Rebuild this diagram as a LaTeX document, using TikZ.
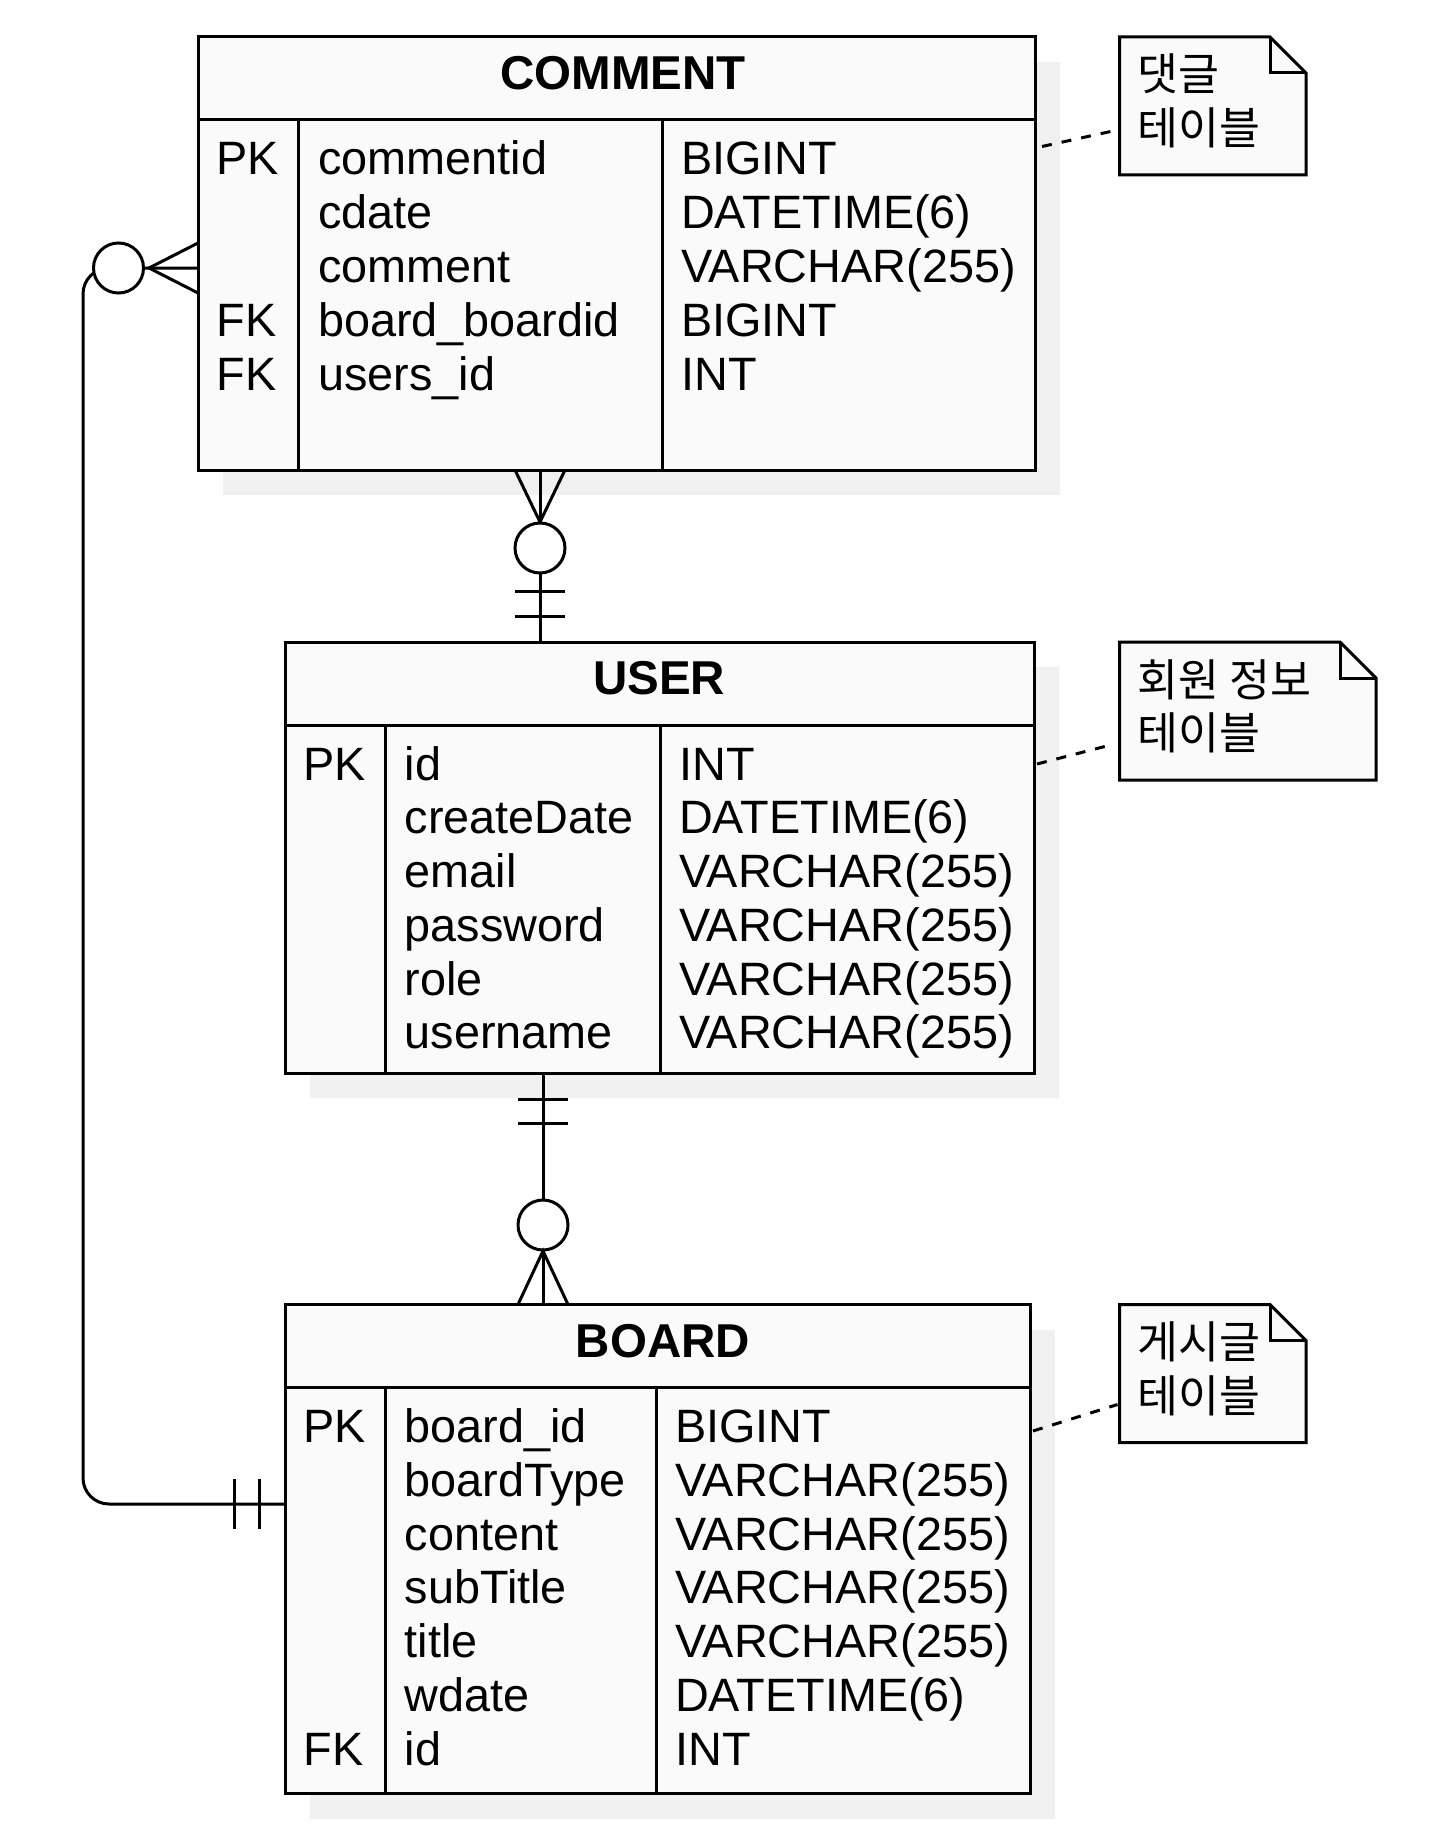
\documentclass[tikz,border=0pt]{standalone}
\usepackage{fontspec}
\setmainfont{Liberation Sans}
\newfontfamily\krfont{Noto Sans CJK KR}
\usetikzlibrary{calc,shadows}
\definecolor{tblfill}{HTML}{FAFAFA}
\definecolor{shadowgray}{HTML}{F0F0F0}
\begin{document}
\begin{tikzpicture}[x=1pt,y=-1pt,
  tbl/.style={draw, line width=3pt, fill=tblfill, inner sep=0pt, outer sep=0pt, anchor=north west,
    drop shadow={shadow xshift=25pt, shadow yshift=-25pt, fill=shadowgray, opacity=1}},
  ln/.style={line width=3pt},
  conn/.style={line width=3pt},
  fld/.style={anchor=base west, inner sep=0pt, font=\fontsize{46.8}{55}\selectfont},
  ttl/.style={anchor=base, inner sep=0pt, font=\fontsize{47.5}{55}\selectfont\bfseries},
  notetxt/.style={anchor=base west, inner sep=0pt, font=\krfont\fontsize{44.5}{52}\selectfont},
  notebox/.style={inner sep=0pt, outer sep=0pt, anchor=north west},
  dashln/.style={line width=3pt, dash pattern=on 10pt off 10pt},
  ring/.style={circle, draw, line width=3pt, fill=white, minimum size=50pt, inner sep=0pt}
]
\useasboundingbox (0,0) rectangle (1442,1846);
\fill[white] (0,0) rectangle (1442,1846);

% ---------- tables ----------
\node[tbl, minimum width=837pt, minimum height=433pt] (comment) at (198,37) {};
\node[tbl, minimum width=749pt, minimum height=431pt] (user) at (285,642) {};
\node[tbl, minimum width=745pt, minimum height=489pt] (board) at (285,1304.5) {};

% header lines and column dividers
\draw[ln] ($(comment.north west)+(0,83)$) -- ($(comment.north east)+(0,83)$);
\draw[ln] ($(comment.north west)+(100.5,83)$) -- ($(comment.south west)+(100.5,0)$);
\draw[ln] ($(comment.north west)+(464.5,83)$) -- ($(comment.south west)+(464.5,0)$);

\draw[ln] ($(user.north west)+(0,83)$) -- ($(user.north east)+(0,83)$);
\draw[ln] ($(user.north west)+(100,83)$) -- ($(user.south west)+(100,0)$);
\draw[ln] ($(user.north west)+(375.5,83)$) -- ($(user.south west)+(375.5,0)$);

\draw[ln] ($(board.north west)+(0,83)$) -- ($(board.north east)+(0,83)$);
\draw[ln] ($(board.north west)+(100,83)$) -- ($(board.south west)+(100,0)$);
\draw[ln] ($(board.north west)+(371.5,83)$) -- ($(board.south west)+(371.5,0)$);

% titles
\node[ttl] (commentT) at ($(comment.north west)+(425,52.5)$) {COMMENT};
\node[ttl] (userT) at ($(user.north west)+(374,52.5)$) {USER};
\node[ttl] (boardT) at ($(board.north west)+(378,52.5)$) {BOARD};

% COMMENT fields
\node[fld] (ck1) at ($(comment.north west)+(18.5,138)$) {PK};
\node[fld] (ck4) at ($(comment.north west)+(18.5,299.25)$) {FK};
\node[fld] (ck5) at ($(comment.north west)+(18.5,353)$) {FK};
\foreach \t [count=\i] in {commentid,cdate,comment,board\_boardid,users\_id}
  \node[fld] (cn\i) at ($(comment.north west)+(120,138+53.75*\i-53.75)$) {\t};
\foreach \t [count=\i] in {BIGINT,DATETIME(6),VARCHAR(255),BIGINT,INT}
  \node[fld] (ct\i) at ($(comment.north west)+(483,138+53.75*\i-53.75)$) {\t};

% USER fields
\node[fld] (uk1) at ($(user.north west)+(18.5,138)$) {PK};
\foreach \t [count=\i] in {id,createDate,email,password,role,username}
  \node[fld] (un\i) at ($(user.north west)+(119.5,138+53.75*\i-53.75)$) {\t};
\foreach \t [count=\i] in {INT,DATETIME(6),VARCHAR(255),VARCHAR(255),VARCHAR(255),VARCHAR(255)}
  \node[fld] (ut\i) at ($(user.north west)+(394,138+53.75*\i-53.75)$) {\t};

% BOARD fields
\node[fld] (bk1) at ($(board.north west)+(18.5,138)$) {PK};
\node[fld] (bk7) at ($(board.north west)+(18.5,460.5)$) {FK};
\foreach \t [count=\i] in {board\_id,boardType,content,subTitle,title,wdate,id}
  \node[fld] (bn\i) at ($(board.north west)+(119.5,138+53.75*\i-53.75)$) {\t};
\foreach \t [count=\i] in {BIGINT,VARCHAR(255),VARCHAR(255),VARCHAR(255),VARCHAR(255),DATETIME(6),INT}
  \node[fld] (bt\i) at ($(board.north west)+(390,138+53.75*\i-53.75)$) {\t};

% ---------- connector COMMENT -- BOARD ----------
\coordinate (aS) at ($(comment.north west)+(0,231)$);
\coordinate (aE) at ($(board.north west)+(0,199.5)$);
\coordinate (aC1) at ($(aS)+(-115,0)$);
\coordinate (aC2) at (aC1 |- aE);
\draw[conn, rounded corners=26pt] (aS) -- (aC1) -- (aC2) -- (aE);
\draw[conn] ($(aS)+(0,-25)$) -- ($(aS)+(-49,0)$) -- ($(aS)+(0,25)$);
\node[ring] (aO) at ($(aS)+(-79.5,0)$) {};
\draw[conn] ($(aE)+(-51,-25)$) -- ($(aE)+(-51,25)$);
\draw[conn] ($(aE)+(-25.5,-25)$) -- ($(aE)+(-25.5,25)$);

% ---------- connector COMMENT -- USER ----------
\coordinate (bS) at ($(comment.south west)+(342,0)$);
\coordinate (bE) at (bS |- user.north);
\draw[conn] (bS) -- (bE);
\draw[conn] ($(bS)+(-25,0)$) -- ($(bS)+(0,52)$) -- ($(bS)+(25,0)$);
\node[ring] (bO) at ($(bS)+(0,78)$) {};
\draw[conn] ($(bE)+(-25,-51)$) -- ($(bE)+(25,-51)$);
\draw[conn] ($(bE)+(-25,-26)$) -- ($(bE)+(25,-26)$);

% ---------- connector USER -- BOARD ----------
\coordinate (cS) at ($(user.south west)+(258,0)$);
\coordinate (cE) at (cS |- board.north);
\draw[conn] (cS) -- (cE);
\draw[conn] ($(cS)+(-25,26.5)$) -- ($(cS)+(25,26.5)$);
\draw[conn] ($(cS)+(-25,50.5)$) -- ($(cS)+(25,50.5)$);
\node[ring] (cO) at ($(cE)+(0,-79.5)$) {};
\draw[conn] ($(cE)+(-25,0)$) -- ($(cE)+(0,-53.5)$) -- ($(cE)+(25,0)$);

% ---------- notes ----------
\node[notebox, minimum width=186.5pt, minimum height=138pt] (note1) at (1119.5,37) {};
\node[notebox, minimum width=256.5pt, minimum height=138pt] (note2) at (1119.5,642) {};
\node[notebox, minimum width=186.5pt, minimum height=138pt] (note3) at (1119.5,1304.5) {};
\foreach \n in {note1,note2,note3}{
  \draw[ln, fill=tblfill] (\n.north west) -- ($(\n.north east)+(-36,0)$) -- ($(\n.north east)+(0,36)$)
     -- (\n.south east) -- (\n.south west) -- cycle;
  \draw[ln] ($(\n.north east)+(-36,0)$) -- ($(\n.north east)+(-36,36)$) -- ($(\n.north east)+(0,36)$);
}
\node[notetxt] (n1a) at ($(note1.north west)+(18,54)$) {댓글};
\node[notetxt] (n1b) at ($(note1.north west)+(18,107.5)$) {테이블};
\node[notetxt] (n2a) at ($(note2.north west)+(18,54)$) {회원 정보};
\node[notetxt] (n2b) at ($(note2.north west)+(18,107.5)$) {테이블};
\node[notetxt] (n3a) at ($(note3.north west)+(18,54)$) {게시글};
\node[notetxt] (n3b) at ($(note3.north west)+(18,107.5)$) {테이블};

% dashed note links
\draw[dashln] ($(comment.north east)+(7,109.5)$) -- ($(note1.north west)+(-2,93)$);
\draw[dashln] ($(user.north east)+(3,122)$) -- ($(note2.north west)+(-9,103)$);
\draw[dashln] ($(board.north east)+(3,126.5)$) -- ($(note3.north west)+(-2,100)$);
\end{tikzpicture}
\end{document}
